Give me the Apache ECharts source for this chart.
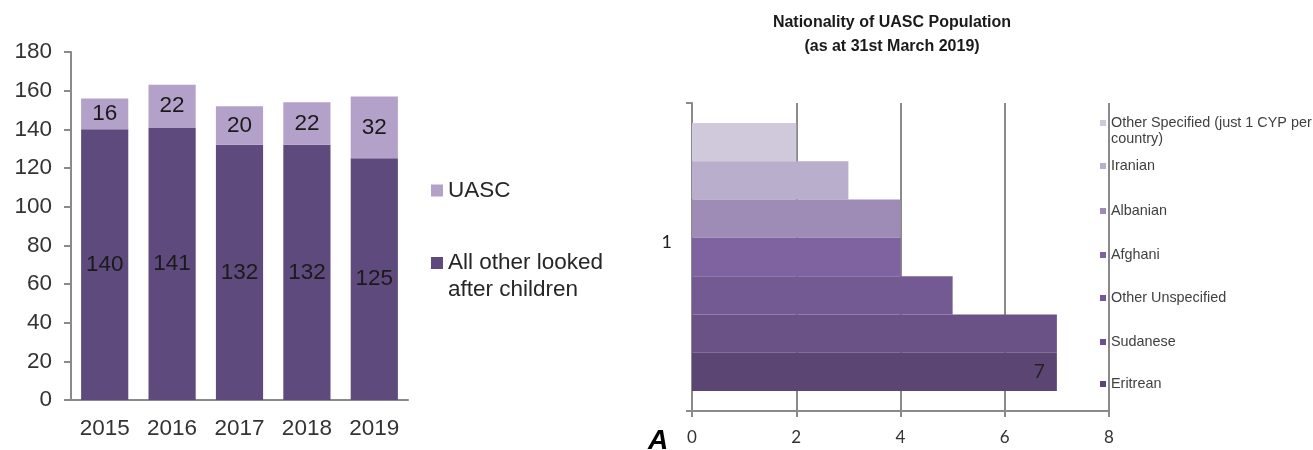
<!DOCTYPE html>
<html>
<head>
<meta charset="utf-8">
<script src="https://cdn.jsdelivr.net/npm/echarts@6/dist/echarts.min.js"></script>
<style>
html,body{margin:0;padding:0;background:#fff;}
#chart{width:1313px;height:450px;}
</style>
</head>
<body>
<div id="chart"></div>
<script>
// Left chart data
const years = ['2015', '2016', '2017', '2018', '2019'];
const otherLAC = [140, 141, 132, 132, 125];
const uasc = [16, 22, 20, 22, 32];
const leftTicks = { min: 0, max: 180, interval: 20 };

// Right chart data (top to bottom)
const nationalities = ['Other Specified (just 1 CYP per country)', 'Iranian', 'Albanian', 'Afghani', 'Other Unspecified', 'Sudanese', 'Eritrean'];
const natValues = [2, 3, 4, 4, 5, 7, 7];
const natColors = ['#d0c9dc', '#b9aecb', '#9e8cb7', '#7f63a0', '#735a93', '#6a5186', '#5b4673'];
const rightTicks = { min: 0, max: 8, interval: 2 };
const rightCategory = ['1'];

const chart = echarts.init(document.getElementById('chart'));
const axisGrey = '#8a8a8a';
const sans = '"Liberation Sans", Arial, sans-serif';
const calib = 'Lato, "Liberation Sans", sans-serif';

const legendTops = [99, 158, 203, 247, 290, 334, 376];

const rightLegends = nationalities.map((n, i) => ({
  data: [n],
  left: 1100,
  top: legendTops[i],
  padding: 0,
  itemWidth: 6,
  itemHeight: 6,
  icon: 'rect',
  formatter: i === 0 ? '\nOther Specified (just 1 CYP per\ncountry)' : '{name}',
  textStyle: { fontFamily: sans, fontSize: 14.4, color: '#404040', lineHeight: 16 }
}));

const option = {
  animation: false,
  backgroundColor: '#fff',
  title: {
    text: 'Nationality of UASC Population\n(as at 31st March 2019)',
    left: 887,
    top: 6,
    textAlign: 'center',
    textStyle: { fontFamily: sans, fontSize: 16, fontWeight: 'bold', color: '#1a1a1a', lineHeight: 24 }
  },
  legend: [
    {
      data: ['UASC'], left: 431, top: 177, padding: 0, itemWidth: 12, itemHeight: 12, icon: 'rect',
      textStyle: { fontFamily: sans, fontSize: 22.5, color: '#262626', lineHeight: 27 }
    },
    {
      data: ['All other looked after children'], left: 431, top: 222.5, padding: 0, itemWidth: 12, itemHeight: 12, icon: 'rect',
      formatter: '\nAll other looked\nafter children',
      textStyle: { fontFamily: sans, fontSize: 22.5, color: '#262626', lineHeight: 27 }
    }
  ].concat(rightLegends),
  grid: [
    { left: 71, top: 52, width: 337, height: 348 },
    { left: 692, top: 103, width: 417, height: 308 }
  ],
  xAxis: [
    {
      gridIndex: 0, type: 'category', data: years,
      axisLine: { lineStyle: { color: axisGrey, width: 2 } },
      axisTick: { length: 8, lineStyle: { color: axisGrey, width: 2 } },
      axisLabel: { fontFamily: sans, fontSize: 22.5, color: '#333', margin: 17 }
    },
    {
      gridIndex: 1, type: 'value', min: rightTicks.min, max: rightTicks.max, interval: rightTicks.interval,
      axisLine: { show: true, lineStyle: { color: axisGrey, width: 2 } },
      axisTick: { show: true, length: 6, lineStyle: { color: axisGrey, width: 2 } },
      splitLine: { show: true, lineStyle: { color: axisGrey, width: 2 } },
      axisLabel: { fontFamily: calib, fontSize: 17, color: '#333', margin: 18 }
    }
  ],
  yAxis: [
    {
      gridIndex: 0, type: 'value', min: leftTicks.min, max: leftTicks.max, interval: leftTicks.interval,
      axisLine: { show: true, lineStyle: { color: axisGrey, width: 2 } },
      axisTick: { show: true, length: 7, lineStyle: { color: axisGrey, width: 2 } },
      splitLine: { show: false },
      axisLabel: { fontFamily: sans, fontSize: 22.5, color: '#333', margin: 19 }
    },
    {
      gridIndex: 1, type: 'category', data: rightCategory,
      axisLine: { show: true, lineStyle: { color: axisGrey, width: 2 } },
      axisTick: { show: true, length: 6, lineStyle: { color: axisGrey, width: 2 } },
      axisLabel: { fontFamily: calib, fontSize: 18, color: '#222', margin: 20, lineHeight: 30, formatter: '{value}\n ' }
    }
  ],
  series: [
    {
      name: 'All other looked after children', type: 'bar', stack: 'a', xAxisIndex: 0, yAxisIndex: 0,
      data: otherLAC, barCategoryGap: '30%',
      itemStyle: { color: '#5e4a7c' },
      label: { show: true, position: 'inside', fontFamily: sans, fontSize: 22.5, color: '#1a1a1a' }
    },
    {
      name: 'UASC', type: 'bar', stack: 'a', xAxisIndex: 0, yAxisIndex: 0,
      data: uasc, barCategoryGap: '30%',
      itemStyle: { color: '#b3a1c9' },
      label: { show: true, position: 'inside', fontFamily: sans, fontSize: 22.5, color: '#1a1a1a' }
    }
  ].concat(nationalities.map((n, i) => ({
    name: n, type: 'bar', xAxisIndex: 1, yAxisIndex: 1,
    data: [natValues[i]],
    barGap: '0%', barCategoryGap: '13%',
    itemStyle: { color: natColors[i] },
    label: i === nationalities.length - 1
      ? { show: true, position: 'insideRight', distance: 12, fontFamily: calib, fontSize: 19, color: '#222' }
      : { show: false }
  }))),
  graphic: [
    {
      type: 'text', left: 648, top: 427,
      style: { text: 'A', fontFamily: sans, fontSize: 28, fontWeight: 'bold', fontStyle: 'italic', fill: '#000' }
    }
  ]
};
chart.setOption(option);
</script>
</body>
</html>
